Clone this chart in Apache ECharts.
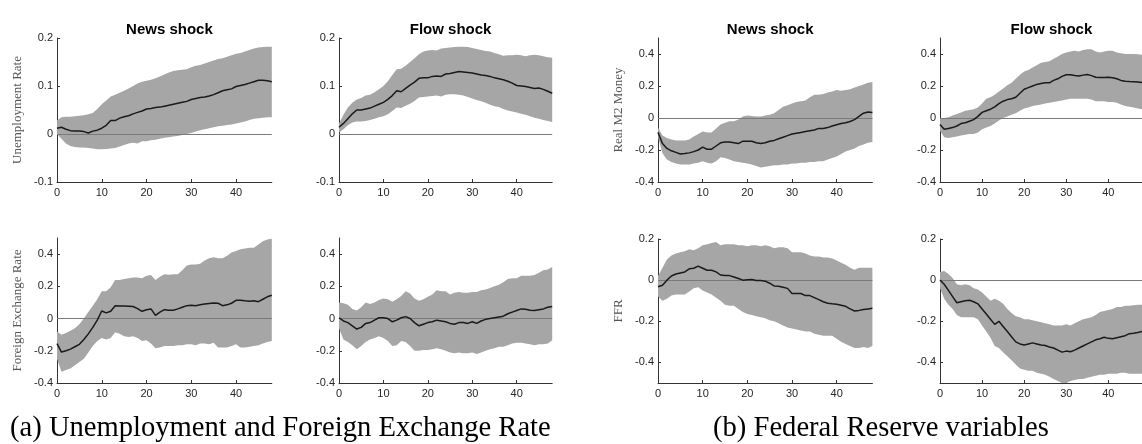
<!DOCTYPE html>
<html>
<head>
<meta charset="utf-8">
<script src="https://cdn.jsdelivr.net/npm/echarts@6/dist/echarts.min.js"></script>
<style>
html,body{margin:0;padding:0;background:#fff;}
#chart{width:1142px;height:444px;}
</style>
</head>
<body>
<div id="chart"></div>
<script>
// ---------------- DATA ----------------
const horizon = [0,1,2,3,4,5,6,7,8,9,10,11,12,13,14,15,16,17,18,19,20,21,22,23,24,25,26,27,28,29,30,31,32,33,34,35,36,37,38,39,40,41,42,43,44,45,46,47,48];
const xTicks = [0,10,20,30,40];

const unempNewsMed = [0.012,0.014,0.010,0.007,0.006,0.006,0.005,0.002,0.006,0.008,0.012,0.018,0.028,0.028,0.033,0.036,0.038,0.042,0.045,0.048,0.052,0.053,0.055,0.056,0.058,0.060,0.062,0.064,0.066,0.068,0.072,0.074,0.076,0.077,0.079,0.082,0.086,0.090,0.092,0.094,0.099,0.101,0.103,0.106,0.109,0.112,0.112,0.111,0.109];
const unempNewsHi  = [0.028,0.035,0.036,0.036,0.037,0.038,0.039,0.041,0.044,0.052,0.062,0.070,0.078,0.082,0.086,0.090,0.095,0.100,0.105,0.109,0.111,0.113,0.116,0.120,0.124,0.128,0.131,0.133,0.134,0.135,0.139,0.142,0.144,0.147,0.150,0.153,0.156,0.158,0.161,0.164,0.167,0.169,0.172,0.175,0.178,0.180,0.181,0.182,0.182];
const unempNewsLo  = [0.000,-0.010,-0.020,-0.025,-0.027,-0.028,-0.028,-0.029,-0.030,-0.032,-0.032,-0.031,-0.030,-0.029,-0.026,-0.023,-0.020,-0.018,-0.020,-0.015,-0.015,-0.013,-0.012,-0.010,-0.008,-0.007,-0.005,-0.004,-0.002,0.000,0.002,0.005,0.008,0.010,0.012,0.014,0.016,0.017,0.019,0.020,0.022,0.024,0.026,0.029,0.032,0.033,0.034,0.035,0.035];

const unempFlowMed = [0.014,0.022,0.032,0.042,0.050,0.050,0.052,0.054,0.058,0.062,0.066,0.072,0.080,0.090,0.088,0.095,0.102,0.108,0.116,0.117,0.117,0.120,0.121,0.120,0.125,0.126,0.128,0.130,0.129,0.128,0.127,0.125,0.123,0.122,0.120,0.117,0.115,0.113,0.110,0.106,0.101,0.100,0.099,0.097,0.095,0.096,0.093,0.089,0.085];
const unempFlowHi  = [0.022,0.040,0.055,0.065,0.072,0.075,0.080,0.082,0.087,0.093,0.100,0.110,0.123,0.135,0.136,0.142,0.150,0.158,0.166,0.172,0.174,0.175,0.174,0.178,0.179,0.180,0.181,0.182,0.182,0.181,0.179,0.177,0.175,0.173,0.172,0.169,0.166,0.163,0.164,0.164,0.165,0.164,0.162,0.164,0.165,0.164,0.162,0.160,0.159];
const unempFlowLo  = [0.003,0.010,0.018,0.024,0.026,0.026,0.027,0.029,0.032,0.035,0.037,0.041,0.048,0.055,0.054,0.059,0.063,0.069,0.076,0.077,0.078,0.079,0.080,0.078,0.082,0.083,0.083,0.082,0.080,0.077,0.074,0.071,0.068,0.065,0.061,0.058,0.056,0.052,0.049,0.047,0.045,0.042,0.040,0.037,0.034,0.032,0.029,0.027,0.025];

const fxNewsMed = [-0.155,-0.208,-0.200,-0.190,-0.175,-0.160,-0.130,-0.095,-0.055,-0.010,0.047,0.035,0.045,0.080,0.078,0.078,0.077,0.075,0.062,0.045,0.055,0.060,0.020,0.040,0.055,0.052,0.052,0.060,0.070,0.080,0.083,0.080,0.085,0.090,0.094,0.097,0.095,0.080,0.085,0.095,0.113,0.113,0.110,0.108,0.110,0.105,0.120,0.135,0.145];
const fxNewsHi  = [-0.080,-0.100,-0.090,-0.075,-0.060,-0.035,0.000,0.040,0.080,0.120,0.170,0.170,0.195,0.240,0.240,0.245,0.250,0.255,0.255,0.250,0.265,0.270,0.240,0.260,0.275,0.272,0.275,0.275,0.300,0.330,0.335,0.335,0.340,0.360,0.375,0.380,0.375,0.375,0.390,0.410,0.420,0.430,0.435,0.440,0.440,0.460,0.480,0.490,0.495];
const fxNewsLo  = [-0.250,-0.330,-0.320,-0.310,-0.290,-0.270,-0.250,-0.210,-0.170,-0.140,-0.120,-0.130,-0.120,-0.085,-0.095,-0.110,-0.115,-0.110,-0.120,-0.140,-0.135,-0.155,-0.185,-0.180,-0.170,-0.170,-0.170,-0.165,-0.165,-0.160,-0.160,-0.165,-0.155,-0.155,-0.160,-0.150,-0.180,-0.180,-0.180,-0.170,-0.160,-0.180,-0.180,-0.175,-0.170,-0.165,-0.155,-0.145,-0.140];

const fxFlowMed = [0.005,-0.015,-0.025,-0.045,-0.065,-0.055,-0.030,-0.025,-0.010,0.005,0.005,0.000,-0.020,-0.010,0.005,0.012,0.000,-0.025,-0.045,-0.035,-0.025,-0.020,-0.010,-0.015,-0.020,-0.030,-0.035,-0.025,-0.025,-0.030,-0.020,-0.030,-0.015,-0.005,0.000,0.005,0.010,0.015,0.030,0.040,0.050,0.060,0.058,0.052,0.050,0.055,0.060,0.070,0.075];
const fxFlowHi  = [0.100,0.095,0.085,0.060,0.050,0.070,0.100,0.090,0.100,0.115,0.125,0.120,0.105,0.120,0.140,0.170,0.155,0.125,0.110,0.120,0.135,0.150,0.175,0.170,0.170,0.150,0.160,0.165,0.160,0.160,0.165,0.165,0.175,0.180,0.190,0.200,0.210,0.225,0.245,0.250,0.250,0.265,0.265,0.265,0.270,0.285,0.300,0.305,0.320];
const fxFlowLo  = [-0.060,-0.130,-0.145,-0.165,-0.190,-0.170,-0.145,-0.130,-0.120,-0.110,-0.120,-0.140,-0.170,-0.165,-0.140,-0.145,-0.170,-0.200,-0.200,-0.195,-0.195,-0.190,-0.185,-0.190,-0.200,-0.210,-0.215,-0.210,-0.215,-0.215,-0.210,-0.220,-0.210,-0.200,-0.190,-0.185,-0.175,-0.175,-0.165,-0.155,-0.150,-0.150,-0.155,-0.160,-0.165,-0.160,-0.160,-0.155,-0.135];

const m2NewsMed = [-0.090,-0.160,-0.190,-0.205,-0.215,-0.225,-0.222,-0.218,-0.210,-0.200,-0.182,-0.195,-0.195,-0.175,-0.155,-0.150,-0.150,-0.155,-0.160,-0.145,-0.145,-0.145,-0.155,-0.160,-0.155,-0.145,-0.140,-0.130,-0.120,-0.110,-0.100,-0.095,-0.090,-0.085,-0.080,-0.075,-0.065,-0.065,-0.060,-0.050,-0.042,-0.035,-0.030,-0.022,-0.010,0.010,0.030,0.037,0.035];
const m2NewsHi  = [-0.060,-0.110,-0.125,-0.135,-0.140,-0.140,-0.140,-0.135,-0.115,-0.100,-0.085,-0.090,-0.090,-0.065,-0.040,-0.030,-0.020,-0.020,-0.010,0.010,0.015,0.012,0.010,0.010,0.015,0.020,0.030,0.050,0.070,0.080,0.090,0.100,0.105,0.110,0.130,0.145,0.145,0.150,0.160,0.165,0.175,0.170,0.175,0.180,0.190,0.200,0.210,0.220,0.225];
const m2NewsLo  = [-0.120,-0.220,-0.260,-0.275,-0.285,-0.290,-0.290,-0.290,-0.285,-0.280,-0.270,-0.280,-0.285,-0.270,-0.245,-0.250,-0.260,-0.270,-0.275,-0.280,-0.285,-0.290,-0.300,-0.310,-0.305,-0.300,-0.295,-0.295,-0.290,-0.290,-0.285,-0.285,-0.280,-0.280,-0.275,-0.275,-0.270,-0.270,-0.260,-0.250,-0.240,-0.225,-0.210,-0.200,-0.190,-0.175,-0.165,-0.155,-0.150];

const m2FlowMed = [-0.040,-0.070,-0.065,-0.060,-0.050,-0.035,-0.030,-0.020,-0.010,0.010,0.035,0.045,0.055,0.070,0.090,0.105,0.115,0.120,0.130,0.155,0.180,0.190,0.200,0.210,0.215,0.220,0.220,0.235,0.245,0.260,0.270,0.270,0.265,0.263,0.268,0.272,0.265,0.255,0.253,0.253,0.255,0.252,0.245,0.235,0.230,0.228,0.227,0.225,0.222];
const m2FlowHi  = [0.000,0.000,0.005,0.015,0.025,0.035,0.045,0.050,0.055,0.065,0.090,0.120,0.130,0.145,0.165,0.185,0.205,0.220,0.245,0.270,0.290,0.300,0.315,0.330,0.345,0.350,0.355,0.370,0.385,0.400,0.410,0.415,0.420,0.415,0.425,0.430,0.430,0.415,0.410,0.415,0.420,0.420,0.410,0.405,0.400,0.400,0.400,0.398,0.395];
const m2FlowLo  = [-0.080,-0.120,-0.125,-0.120,-0.115,-0.110,-0.105,-0.100,-0.100,-0.090,-0.070,-0.060,-0.050,-0.035,-0.015,0.000,0.010,0.020,0.030,0.045,0.060,0.065,0.075,0.080,0.085,0.090,0.095,0.100,0.105,0.110,0.115,0.120,0.120,0.120,0.120,0.120,0.115,0.105,0.105,0.105,0.100,0.100,0.095,0.085,0.075,0.070,0.065,0.060,0.055];

const ffrNewsMed = [-0.032,-0.025,0.000,0.020,0.030,0.035,0.040,0.055,0.058,0.068,0.058,0.048,0.048,0.040,0.025,0.022,0.022,0.015,0.008,0.000,0.002,0.003,-0.002,-0.002,-0.005,-0.015,-0.028,-0.030,-0.035,-0.040,-0.065,-0.065,-0.065,-0.075,-0.075,-0.085,-0.095,-0.105,-0.112,-0.115,-0.117,-0.122,-0.127,-0.140,-0.150,-0.147,-0.143,-0.140,-0.137];
const ffrNewsHi  = [0.020,0.060,0.100,0.120,0.130,0.135,0.140,0.150,0.145,0.155,0.170,0.175,0.180,0.185,0.170,0.175,0.175,0.175,0.170,0.170,0.165,0.170,0.170,0.165,0.170,0.165,0.155,0.160,0.160,0.155,0.135,0.135,0.135,0.130,0.120,0.115,0.115,0.110,0.110,0.105,0.095,0.085,0.075,0.060,0.050,0.060,0.060,0.060,0.060];
const ffrNewsLo  = [-0.080,-0.100,-0.090,-0.075,-0.070,-0.070,-0.070,-0.055,-0.040,-0.035,-0.050,-0.060,-0.070,-0.085,-0.100,-0.120,-0.125,-0.125,-0.140,-0.155,-0.165,-0.170,-0.175,-0.180,-0.185,-0.195,-0.200,-0.210,-0.220,-0.230,-0.235,-0.240,-0.245,-0.250,-0.250,-0.260,-0.265,-0.270,-0.270,-0.270,-0.285,-0.300,-0.310,-0.320,-0.330,-0.330,-0.325,-0.330,-0.320];

const ffrFlowMed = [0.000,-0.020,-0.050,-0.080,-0.110,-0.105,-0.100,-0.098,-0.105,-0.115,-0.140,-0.165,-0.190,-0.215,-0.200,-0.225,-0.250,-0.275,-0.300,-0.310,-0.315,-0.310,-0.305,-0.310,-0.315,-0.318,-0.325,-0.330,-0.340,-0.350,-0.345,-0.348,-0.340,-0.330,-0.320,-0.310,-0.300,-0.290,-0.285,-0.278,-0.283,-0.285,-0.280,-0.275,-0.270,-0.260,-0.258,-0.255,-0.250];
const ffrFlowHi  = [0.040,0.045,0.030,0.010,-0.020,-0.025,-0.020,-0.025,-0.040,-0.045,-0.060,-0.080,-0.100,-0.090,-0.100,-0.115,-0.140,-0.160,-0.175,-0.180,-0.190,-0.190,-0.195,-0.200,-0.205,-0.210,-0.215,-0.220,-0.220,-0.220,-0.215,-0.220,-0.210,-0.200,-0.190,-0.185,-0.180,-0.170,-0.155,-0.150,-0.145,-0.140,-0.130,-0.130,-0.125,-0.125,-0.122,-0.120,-0.120];
const ffrFlowLo  = [-0.040,-0.090,-0.120,-0.140,-0.170,-0.180,-0.180,-0.180,-0.180,-0.190,-0.220,-0.250,-0.280,-0.320,-0.330,-0.350,-0.370,-0.390,-0.410,-0.430,-0.435,-0.440,-0.440,-0.450,-0.455,-0.460,-0.470,-0.480,-0.490,-0.500,-0.500,-0.490,-0.485,-0.480,-0.480,-0.475,-0.470,-0.465,-0.460,-0.460,-0.455,-0.455,-0.455,-0.450,-0.450,-0.455,-0.455,-0.455,-0.455];

const ticksUnemp = [-0.1,0,0.1,0.2];
const ticksWide  = [-0.4,-0.2,0,0.2,0.4];
const ticksFFR   = [-0.4,-0.2,0,0.2];

const titles = ['News shock','Flow shock'];
const yNames = ['Unemployment Rate','Foreign Exchange Rate','Real M2 Money','FFR'];
const captions = ['(a) Unemployment and Foreign Exchange Rate','(b) Federal Reserve variables'];

// ---------------- LAYOUT ----------------
const panels = [
  {box:[57,38,214.8,144], yr:[-0.1,0.2], yt:ticksUnemp, title:titles[0], yname:yNames[0], lo:unempNewsLo, med:unempNewsMed, hi:unempNewsHi},
  {box:[339,38,213.2,144], yr:[-0.1,0.2], yt:ticksUnemp, title:titles[1], yname:'', lo:unempFlowLo, med:unempFlowMed, hi:unempFlowHi},
  {box:[57,238,214.8,145], yr:[-0.4,0.5], yt:ticksWide, title:'', yname:yNames[1], lo:fxNewsLo, med:fxNewsMed, hi:fxNewsHi},
  {box:[339,238,213.2,145], yr:[-0.4,0.5], yt:ticksWide, title:'', yname:'', lo:fxFlowLo, med:fxFlowMed, hi:fxFlowHi},
  {box:[658,38,214.4,144], yr:[-0.4,0.5], yt:ticksWide, title:titles[0], yname:yNames[2], lo:m2NewsLo, med:m2NewsMed, hi:m2NewsHi},
  {box:[940,38,212.8,144], yr:[-0.4,0.5], yt:ticksWide, title:titles[1], yname:'', lo:m2FlowLo, med:m2FlowMed, hi:m2FlowHi},
  {box:[658,239,214.4,144], yr:[-0.5,0.2], yt:ticksFFR, title:'', yname:yNames[3], lo:ffrNewsLo, med:ffrNewsMed, hi:ffrNewsHi},
  {box:[940,239,212.8,144], yr:[-0.5,0.2], yt:ticksFFR, title:'', yname:'', lo:ffrFlowLo, med:ffrFlowMed, hi:ffrFlowHi}
];

const AXIS = '#333333';
const BAND = '#a6a6a6';
const sans = 'Liberation Sans, Arial, Helvetica, sans-serif';
const serif = 'Liberation Serif, Times New Roman, serif';

function bandRenderer(rows) {
  return function (params, api) {
    if (params.dataIndex !== 0) return null;
    const upper = rows.map(r => api.coord([r[0], r[2]]));
    const lower = rows.map(r => api.coord([r[0], r[1]])).reverse();
    return {
      type:'polygon',
      shape:{points: upper.concat(lower)},
      style:{fill:BAND, stroke:null},
      silent:true
    };
  };
}

const grid = [], xAxis = [], yAxis = [], series = [], title = [];
panels.forEach((p, i) => {
  grid.push({left:p.box[0], top:p.box[1], width:p.box[2], height:p.box[3], containLabel:false});
  xAxis.push({
    type:'value', gridIndex:i, min:0, max:48,
    axisLine:{show:true, onZero:false, lineStyle:{color:AXIS, width:1}},
    axisTick:{show:true, inside:true, length:3, customValues:xTicks, lineStyle:{color:AXIS}},
    axisLabel:{customValues:xTicks, color:'#262626', fontFamily:sans, fontSize:11, margin:5},
    splitLine:{show:false}
  });
  yAxis.push({
    type:'value', gridIndex:i, min:p.yr[0], max:p.yr[1],
    name:p.yname, nameLocation:'middle', nameGap:33,
    nameTextStyle:{fontFamily:serif, fontSize:13, color:'#555555'},
    axisLine:{show:true, onZero:false, lineStyle:{color:AXIS, width:1}},
    axisTick:{show:true, inside:true, length:3, customValues:p.yt, lineStyle:{color:AXIS}},
    axisLabel:{customValues:p.yt, color:'#262626', fontFamily:sans, fontSize:11, margin:4},
    splitLine:{show:false}
  });
  const rows = horizon.map((h, k) => [h, p.lo[k], p.hi[k]]);
  series.push({
    type:'custom', xAxisIndex:i, yAxisIndex:i, silent:true, z:1,
    renderItem: bandRenderer(rows),
    encode:{x:0, y:[1,2]},
    data: rows
  });
  series.push({
    type:'line', xAxisIndex:i, yAxisIndex:i, symbol:'none', silent:true, z:3,
    lineStyle:{color:'#1a1a1a', width:1.5},
    data: horizon.map((h, k) => [h, p.med[k]]),
    markLine:{
      silent:true, symbol:['none','none'], label:{show:false}, z:2,
      lineStyle:{color:'#7a7a7a', width:1, type:'solid'},
      data:[{yAxis:0}], animation:false
    }
  });
  if (p.title) {
    title.push({
      text:p.title, left:p.box[0] + p.box[2] / 2, top:17, textAlign:'center',
      textStyle:{fontFamily:sans, fontWeight:'bold', fontSize:15, color:'#000'}
    });
  }
});

const chart = echarts.init(document.getElementById('chart'), null, {renderer:'canvas'});
chart.setOption({
  animation:false,
  backgroundColor:'#ffffff',
  title, grid, xAxis, yAxis, series,
  graphic:[
    {type:'text', left:10, top:414, style:{text:captions[0], font:'28.6px ' + serif, fill:'#000'}},
    {type:'text', left:713, top:414, style:{text:captions[1], font:'28.6px ' + serif, fill:'#000'}}
  ]
});
</script>
</body>
</html>
